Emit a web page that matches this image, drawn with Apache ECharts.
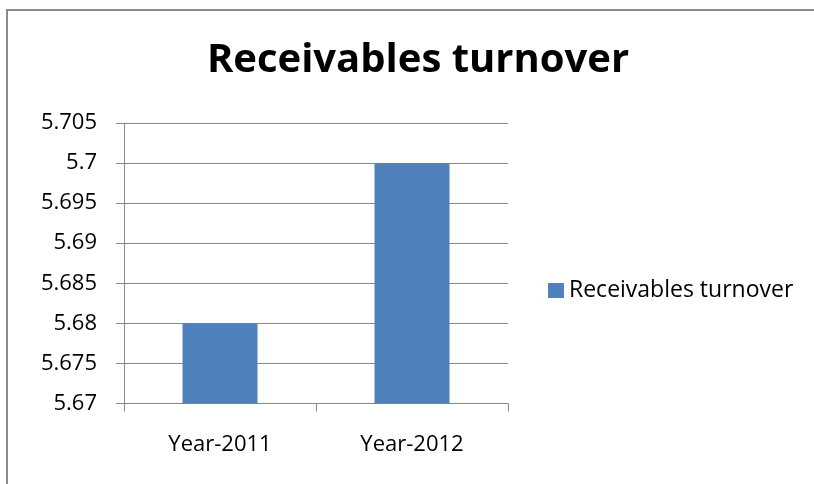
<!DOCTYPE html>
<html>
<head>
<meta charset="utf-8">
<script src="https://cdn.jsdelivr.net/npm/echarts@6/dist/echarts.min.js"></script>
<style>
  html, body { margin: 0; padding: 0; background: #fff; }
  #chart { width: 814px; height: 484px; }
</style>
</head>
<body>
<div id="chart"></div>
<script>
const titleText = 'Receivables turnover';
const seriesName = 'Receivables turnover';
const categories = ['Year-2011', 'Year-2012'];
const turnover = [5.68, 5.70];
const yMin = 5.67;
const yMax = 5.705;
const yStep = 0.005;

const FONT = 'Open Sans';
const axisGrey = '#898989';

const chart = echarts.init(document.getElementById('chart'), null, { renderer: 'canvas' });
chart.setOption({
  backgroundColor: '#ffffff',
  animation: false,
  graphic: [{
    type: 'rect',
    shape: { x: 7, y: 10, width: 900, height: 600 },
    style: { fill: 'none', stroke: '#8c8c8c', lineWidth: 2 },
    silent: true
  }],
  title: {
    text: titleText,
    left: 418,
    textAlign: 'center',
    top: 41,
    padding: 0,
    textStyle: { fontFamily: FONT, fontWeight: 'bold', fontSize: 40, lineHeight: 40, color: '#000' }
  },
  legend: {
    data: [seriesName],
    left: 548,
    top: 279,
    padding: 0,
    icon: 'rect',
    itemWidth: 16,
    itemHeight: 15,
    itemGap: 7,
    textStyle: { fontFamily: FONT, fontSize: 23, color: '#000' }
  },
  grid: { left: 124, top: 123, right: 306, bottom: 80.5, containLabel: false },
  xAxis: {
    type: 'category',
    data: categories,
    axisLine: { lineStyle: { color: axisGrey, width: 1 } },
    axisTick: { show: true, length: 8, lineStyle: { color: axisGrey } },
    axisLabel: { margin: 30, fontFamily: FONT, fontSize: 22, color: '#000' },
    splitLine: { show: false }
  },
  yAxis: {
    type: 'value',
    min: yMin,
    max: yMax,
    interval: yStep,
    axisLine: { show: true, lineStyle: { color: axisGrey, width: 1 } },
    axisTick: { show: true, length: 8, lineStyle: { color: axisGrey } },
    axisLabel: {
      margin: 27,
      fontFamily: FONT,
      fontSize: 22,
      color: '#000',
      formatter: v => String(+v.toFixed(3))
    },
    splitLine: { show: true, lineStyle: { color: axisGrey, width: 1 } }
  },
  series: [{
    name: seriesName,
    type: 'bar',
    data: turnover,
    barWidth: 75,
    itemStyle: { color: '#4F81BD' }
  }]
});
</script>
</body>
</html>
